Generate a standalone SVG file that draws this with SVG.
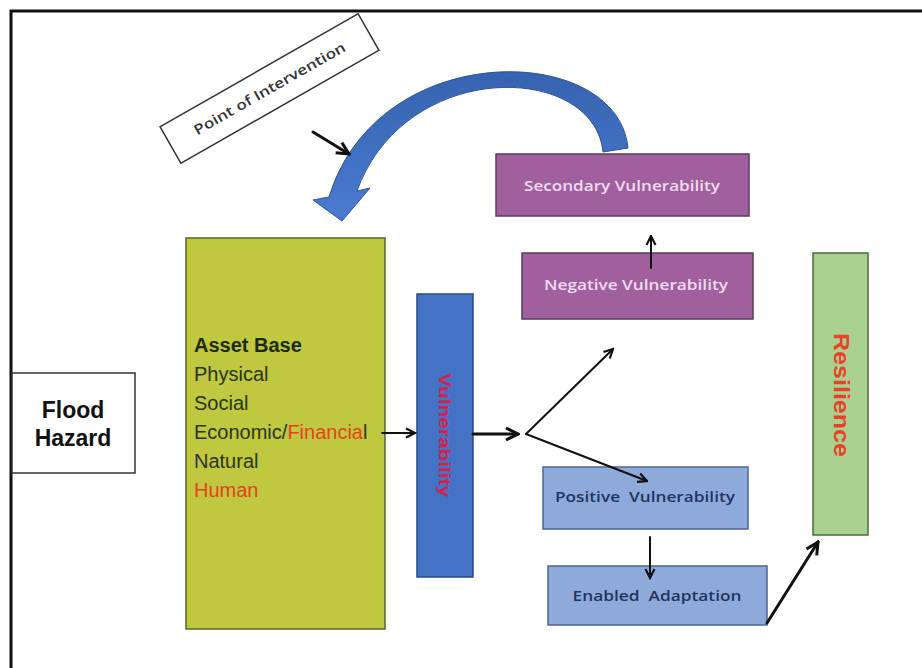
<svg xmlns="http://www.w3.org/2000/svg" width="922" height="668" viewBox="0 0 922 668">
<defs>
<style>
.frame{fill:#fff;stroke:#111;stroke-width:3}
.lbl{font-family:"Liberation Sans",Arial,sans-serif}
.cal{font-family:"Open Sans","Noto Sans",sans-serif;font-weight:600}
.purple{fill:#a0609e;stroke:#5e3a5c;stroke-width:1.5}
.lblue{fill:#8eaadb;stroke:#4d6690;stroke-width:1.5}
.conn{fill:none;stroke:#111;stroke-linecap:round}
</style>
<marker id="chev" viewBox="0 0 12 12" markerWidth="12" markerHeight="12" refX="10.5" refY="6" orient="auto" markerUnits="userSpaceOnUse">
<path d="M1.5,1.5 L10.5,6 L1.5,10.5" fill="none" stroke="#111" stroke-width="2.2" stroke-linejoin="miter"/>
</marker>
<marker id="chevL" viewBox="0 0 16 16" markerWidth="16" markerHeight="16" refX="14" refY="8" orient="auto" markerUnits="userSpaceOnUse">
<path d="M2,2 L14,8 L2,14" fill="none" stroke="#111" stroke-width="3" stroke-linejoin="miter"/>
</marker>
<linearGradient id="blueArc" x1="0" y1="0" x2="0" y2="1">
<stop offset="0" stop-color="#3563b0"/>
<stop offset="1" stop-color="#4a7bd0"/>
</linearGradient>
</defs>
<rect x="0" y="0" width="922" height="668" fill="#fff"/>
<rect class="frame" x="11" y="11" width="950" height="700"/>

<g id="point-of-intervention">
<g transform="translate(269.5,88.5) rotate(-29.7)">
<rect x="-114" y="-21" width="228" height="42" fill="#fff" stroke="#333" stroke-width="1.5"/>
<text class="cal" x="0" y="5" font-size="14" font-weight="400" fill="#333" text-anchor="middle" textLength="172" lengthAdjust="spacingAndGlyphs">Point of Intervention</text>
</g>
</g>

<g id="feedback-arrow">
<path d="M603,152 C594,62 405,58 357,191 L370,188 L342,221 L313,200 L329,197 C378,36 618,42 628,148 Z" fill="url(#blueArc)" stroke="#2c519a" stroke-width="1"/>
</g>

<g id="flood-hazard">
<rect x="12" y="373" width="123" height="100" fill="#fff" stroke="#333" stroke-width="1.5"/>
<text class="lbl" x="73" y="418" font-size="23" font-weight="700" fill="#111" text-anchor="middle">Flood</text>
<text class="lbl" x="73" y="446" font-size="23" font-weight="700" fill="#111" text-anchor="middle">Hazard</text>
</g>

<g id="asset-base">
<rect x="186" y="238" width="199" height="391" fill="#bfc83e" stroke="#56662a" stroke-width="1.5"/>
<text class="lbl" x="194" y="352" font-size="20" font-weight="700" fill="#1e2a10">Asset Base</text>
<text class="lbl" font-size="20" fill="#2a3412">
<tspan x="194" y="381">Physical</tspan>
<tspan x="194" y="410">Social</tspan>
<tspan x="194" y="439">Economic/<tspan fill="#e8401c">Financia</tspan>l</tspan>
<tspan x="194" y="468">Natural</tspan>
<tspan x="194" y="497" fill="#e8401c">Human</tspan>
</text>
</g>

<g id="vulnerability">
<rect x="417" y="294" width="56" height="283" fill="#4472c4" stroke="#2b4b86" stroke-width="1.5"/>
<text class="lbl" transform="translate(439,435) rotate(90)" x="0" y="0" font-size="16" font-weight="700" fill="#d6204a" text-anchor="middle" textLength="124" lengthAdjust="spacingAndGlyphs">Vulnerability</text>
</g>

<g id="secondary-vulnerability">
<rect class="purple" x="496" y="154" width="253" height="62"/>
<text class="cal" x="622" y="191" font-size="15" fill="#f3dcf2" text-anchor="middle" textLength="196" lengthAdjust="spacingAndGlyphs">Secondary Vulnerability</text>
</g>

<g id="negative-vulnerability">
<rect class="purple" x="522" y="253" width="231" height="66"/>
<text class="cal" x="636" y="290" font-size="15" fill="#f3dcf2" text-anchor="middle" textLength="184" lengthAdjust="spacingAndGlyphs">Negative Vulnerability</text>
</g>

<g id="positive-vulnerability">
<rect class="lblue" x="543" y="467" width="205" height="62"/>
<text class="cal" x="645" y="502" font-size="15" fill="#1f3460" text-anchor="middle" textLength="180" lengthAdjust="spacingAndGlyphs" xml:space="preserve">Positive  Vulnerability</text>
</g>

<g id="enabled-adaptation">
<rect class="lblue" x="548" y="566" width="219" height="59"/>
<text class="cal" x="657" y="601" font-size="15" fill="#1f3460" text-anchor="middle" textLength="169" lengthAdjust="spacingAndGlyphs" xml:space="preserve">Enabled  Adaptation</text>
</g>

<g id="resilience">
<rect x="813" y="253" width="55" height="282" fill="#a9d08e" stroke="#4d6b3a" stroke-width="1.5"/>
<text class="lbl" transform="translate(834,395) rotate(90)" x="0" y="0" font-size="22" font-weight="700" fill="#e8422a" text-anchor="middle" textLength="124" lengthAdjust="spacingAndGlyphs">Resilience</text>
</g>

<g id="connectors">
<line class="conn" x1="313" y1="132" x2="349" y2="154" stroke-width="3" marker-end="url(#chevL)"/>
<line class="conn" x1="382" y1="433" x2="415" y2="433" stroke-width="1.8" stroke="#333" marker-end="url(#chev)"/>
<line class="conn" x1="473" y1="434" x2="518" y2="434" stroke-width="3" marker-end="url(#chevL)"/>
<line class="conn" x1="526" y1="434" x2="613" y2="349" stroke-width="2" marker-end="url(#chev)"/>
<line class="conn" x1="526" y1="434" x2="647" y2="481" stroke-width="2" marker-end="url(#chev)"/>
<line class="conn" x1="651" y1="268" x2="651" y2="236" stroke-width="2" marker-end="url(#chev)"/>
<line class="conn" x1="650" y1="537" x2="650" y2="578" stroke-width="2" marker-end="url(#chev)"/>
<line class="conn" x1="767" y1="623" x2="818" y2="542" stroke-width="3" marker-end="url(#chevL)"/>
</g>
</svg>
